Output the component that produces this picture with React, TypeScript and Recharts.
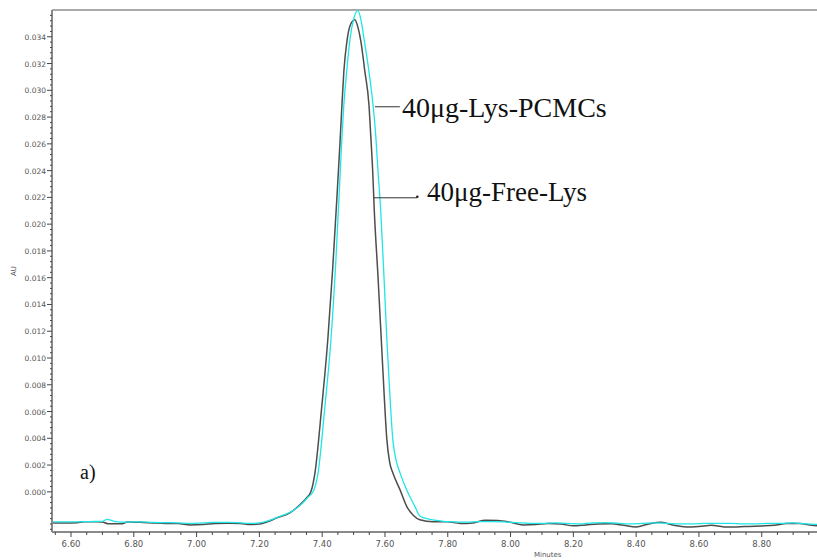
import React from 'react';
import {
  LineChart,
  Line,
  XAxis,
  YAxis,
  ReferenceLine,
  ReferenceDot,
} from 'recharts';

// retention time (minutes) and absorbance (AU)
const freeLysTime = [
  6.54, 6.58, 6.62, 6.64, 6.68, 6.7, 6.72, 6.76, 6.78, 6.82, 6.86, 6.9, 6.94, 6.98, 7.02, 7.06, 7.1, 7.14,
  7.17, 7.2, 7.23, 7.256, 7.297, 7.33, 7.35, 7.364, 7.377, 7.398, 7.418, 7.433, 7.447, 7.457, 7.463, 7.469,
  7.479, 7.49, 7.504, 7.514, 7.523, 7.536, 7.549, 7.555, 7.561, 7.566, 7.578, 7.59, 7.598, 7.606, 7.615,
  7.625, 7.648, 7.67, 7.69, 7.711, 7.753, 7.8, 7.84, 7.88, 7.92, 7.96, 8.0, 8.04, 8.08, 8.12, 8.16, 8.2,
  8.24, 8.28, 8.32, 8.36, 8.4, 8.44, 8.48, 8.52, 8.56, 8.6, 8.64, 8.68, 8.72, 8.76, 8.8, 8.84, 8.88, 8.92,
  8.96, 8.98,
];
const freeLysAU = [
  -0.00232, -0.00232, -0.0023, -0.00224, -0.00224, -0.00226, -0.00239, -0.00239, -0.00226, -0.00228,
  -0.00232, -0.00236, -0.00236, -0.00247, -0.00244, -0.00236, -0.00234, -0.00236, -0.00244, -0.0024,
  -0.0022, -0.00194, -0.00157, -0.00095, -0.00045, 0.0, 0.00142, 0.0062, 0.0114, 0.0165, 0.022, 0.0262,
  0.0289, 0.0314, 0.0337, 0.0349, 0.03528, 0.0347, 0.0337, 0.0314, 0.0289, 0.0265, 0.0239, 0.021, 0.016,
  0.0106, 0.007, 0.0039, 0.0022, 0.00142, 0.00015, -0.00112, -0.00175, -0.00209, -0.00224, -0.00224,
  -0.00236, -0.00232, -0.00212, -0.00214, -0.00228, -0.00247, -0.00244, -0.00236, -0.0024, -0.00254,
  -0.00247, -0.0024, -0.00239, -0.0025, -0.00262, -0.0024, -0.00228, -0.0025, -0.00262, -0.00258,
  -0.0025, -0.00262, -0.00262, -0.00258, -0.00255, -0.0025, -0.00236, -0.00236, -0.0025, -0.00254,
];

const pcmcTime = [
  6.54, 6.58, 6.62, 6.66, 6.7, 6.715, 6.74, 6.78, 6.82, 6.86, 6.9, 6.94, 6.98, 7.02, 7.06, 7.1, 7.14, 7.17,
  7.2, 7.23, 7.26, 7.3, 7.335, 7.355, 7.371, 7.387, 7.408, 7.428, 7.443, 7.454, 7.463, 7.469, 7.478, 7.489,
  7.5, 7.514, 7.524, 7.533, 7.549, 7.562, 7.571, 7.578, 7.586, 7.596, 7.606, 7.615, 7.625, 7.635, 7.648,
  7.67, 7.696, 7.711, 7.743, 7.78, 7.82, 7.86, 7.9, 7.94, 7.98, 8.02, 8.06, 8.1, 8.14, 8.18, 8.22, 8.26,
  8.3, 8.34, 8.38, 8.42, 8.46, 8.5, 8.54, 8.58, 8.62, 8.66, 8.7, 8.74, 8.78, 8.82, 8.86, 8.9, 8.94, 8.98,
];
const pcmcAU = [
  -0.00224, -0.00224, -0.00224, -0.00222, -0.0022, -0.00205, -0.00222, -0.00226, -0.00224, -0.00228,
  -0.0023, -0.00232, -0.00236, -0.00232, -0.00228, -0.00228, -0.00232, -0.00236, -0.00232, -0.00215,
  -0.00188, -0.0015, -0.0009, -0.0004, 0.0, 0.00142, 0.0062, 0.0114, 0.017, 0.0222, 0.0265, 0.0289,
  0.0314, 0.0339, 0.0353, 0.03595, 0.0352, 0.0339, 0.0314, 0.0289, 0.0265, 0.0239, 0.0212, 0.0165,
  0.0114, 0.0075, 0.0039, 0.0024, 0.00142, 0.0001, -0.00112, -0.0018, -0.00205, -0.00218, -0.00224,
  -0.00226, -0.00222, -0.00222, -0.00224, -0.0023, -0.00236, -0.00236, -0.00232, -0.00236, -0.0024,
  -0.00232, -0.0023, -0.00234, -0.0024, -0.00236, -0.00232, -0.00236, -0.0024, -0.0024, -0.00236,
  -0.00236, -0.00236, -0.0024, -0.0024, -0.00236, -0.00236, -0.00232, -0.0024, -0.00244,
];

const xMajorTicks = [6.6, 6.8, 7.0, 7.2, 7.4, 7.6, 7.8, 8.0, 8.2, 8.4, 8.6, 8.8];
const yMajorTicks = [
  0, 0.002, 0.004, 0.006, 0.008, 0.01, 0.012, 0.014, 0.016, 0.018, 0.02, 0.022, 0.024, 0.026, 0.028,
  0.03, 0.032, 0.034,
];

const xDomain = [6.5395, 8.976];
const yDomain = [-0.003, 0.036];

const freeLys = freeLysTime.map((t, i) => ({ t, au: freeLysAU[i] }));
const pcmc = pcmcTime.map((t, i) => ({ t, au: pcmcAU[i] }));

// minor ticks between the labelled ones
const xTicks: number[] = [];
for (let v = 6.55; v < 8.97; v += 0.05) xTicks.push(+v.toFixed(2));
const yTicks: number[] = [];
for (let v = -0.0028; v < 0.0359; v += 0.0004) yTicks.push(+v.toFixed(4));

const isMajor = (v: number, list: number[]) => list.some((m) => Math.abs(m - v) < 1e-7);

const tickFont = 'DejaVu Sans, Arial, sans-serif';
const serif = '"Liberation Serif", "Times New Roman", serif';

const XTick = (props: any) => {
  const { x, y, payload } = props;
  const major = isMajor(payload.value, xMajorTicks);
  return (
    <g>
      <line x1={x} x2={x} y1={y} y2={y + (major ? 5 : 3)} stroke="#444" strokeWidth={1} />
      {major && (
        <text x={x} y={y + 15} textAnchor="middle" fontSize={8.5} fill="#555" fontFamily={tickFont}>
          {payload.value.toFixed(2)}
        </text>
      )}
    </g>
  );
};

const YTick = (props: any) => {
  const { x, y, payload } = props;
  const major = isMajor(payload.value, yMajorTicks);
  return (
    <g>
      <line x1={x - (major ? 5 : 2)} x2={x} y1={y} y2={y} stroke="#444" strokeWidth={1} />
      {major && (
        <text x={x - 6} y={y + 3} textAnchor="end" fontSize={7.5} fill="#555" fontFamily={tickFont}>
          {payload.value.toFixed(3)}
        </text>
      )}
    </g>
  );
};

const TextMark = (text: string, size: number, dy: number) => (p: any) => (
  <text x={p.cx} y={p.cy + dy} fontSize={size} fill="#111" fontFamily={serif}>
    {text}
  </text>
);

export default function App() {
  return (
    <div style={{ position: 'absolute', left: 0, top: 0, width: 817, height: 560, background: '#fff' }}>
      <LineChart width={817} height={560} margin={{ top: 10, right: 0, bottom: 0, left: 0 }}>
        <XAxis
          type="number"
          dataKey="t"
          domain={xDomain}
          allowDataOverflow
          ticks={xTicks}
          interval={0}
          tickSize={0}
          tickMargin={0}
          tick={<XTick />}
          height={28}
          axisLine={{ stroke: '#8a8a8a', strokeWidth: 2 }}
          label={{
            content: (p: any) => (
              <text
                x={p.viewBox.x + p.viewBox.width * 0.648}
                y={p.viewBox.y + 25}
                textAnchor="middle"
                fontSize={7}
                fill="#555"
                fontFamily={tickFont}
              >
                Minutes
              </text>
            ),
          }}
        />
        <YAxis
          type="number"
          domain={yDomain}
          allowDataOverflow
          ticks={yTicks}
          interval={0}
          tickSize={0}
          tickMargin={0}
          tick={<YTick />}
          width={52}
          axisLine={{ stroke: '#8a8a8a', strokeWidth: 2 }}
          label={{
            content: (p: any) => (
              <text
                x={16}
                y={p.viewBox.y + p.viewBox.height / 2}
                textAnchor="middle"
                fontSize={7}
                fill="#555"
                fontFamily={tickFont}
                transform={`rotate(-90 16 ${p.viewBox.y + p.viewBox.height / 2})`}
              >
                AU
              </text>
            ),
          }}
        />
        <ReferenceLine y={0.036} stroke="#aaaaaa" strokeWidth={2} />
        <Line
          data={freeLys}
          dataKey="au"
          type="monotone"
          stroke="#4d4d4d"
          strokeWidth={1.5}
          dot={false}
          isAnimationActive={false}
        />
        <Line
          data={pcmc}
          dataKey="au"
          type="monotone"
          stroke="#1ee6e6"
          strokeWidth={1.3}
          dot={false}
          isAnimationActive={false}
        />
        <ReferenceLine
          segment={[
            { x: 7.568, y: 0.02877 },
            { x: 7.6475, y: 0.02877 },
          ]}
          stroke="#333"
          strokeWidth={1}
        />
        <ReferenceLine
          segment={[
            { x: 7.565, y: 0.02197 },
            { x: 7.702, y: 0.02197 },
          ]}
          stroke="#333"
          strokeWidth={1}
        />
        <ReferenceDot x={7.703} y={0.02205} r={1.3} fill="#222" stroke="none" />
        <ReferenceDot x={7.654} y={0.02877} r={0} shape={TextMark('40μg-Lys-PCMCs', 28, 10)} />
        <ReferenceDot x={7.734} y={0.02197} r={0} shape={TextMark('40μg-Free-Lys', 27, 3)} />
        <ReferenceDot x={6.629} y={0.00097} r={0} shape={TextMark('a)', 20, 0)} />
      </LineChart>
    </div>
  );
}
